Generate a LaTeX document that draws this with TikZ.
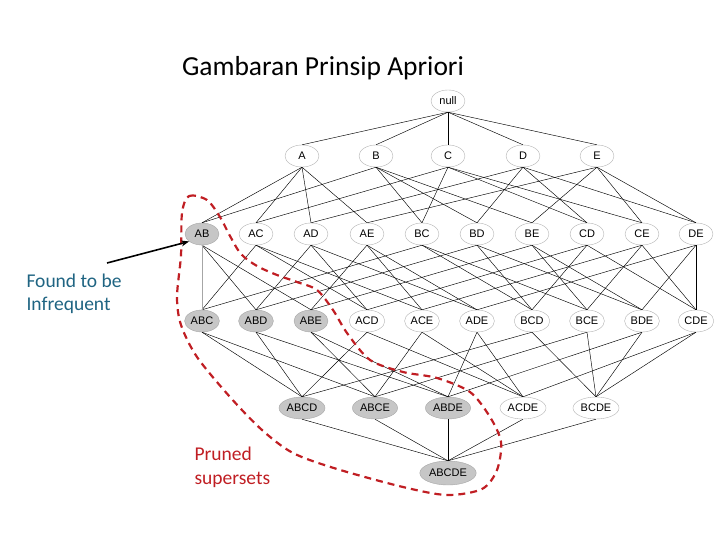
\documentclass[tikz,border=0pt]{standalone}
\usepackage{fontspec}
\setmainfont{Carlito}
\newfontfamily\arialfont{Liberation Sans}
\usetikzlibrary{shapes.geometric, arrows.meta}
\definecolor{teal1}{RGB}{31,100,130}
\definecolor{red1}{RGB}{192,30,35}
\tikzset{
  itemset/.style={ellipse, draw=gray!60, line width=0.4pt, fill=white,
    minimum width=34pt, minimum height=22pt, inner xsep=1pt, inner ysep=0pt,
    font=\arialfont\fontsize{11}{12}\selectfont},
  prunedset/.style={itemset, fill=gray!45, draw=gray!70},
  edge/.style={line width=0.45pt, black},
  prune/.style={red1, line width=2.2pt, dash pattern=on 7pt off 5pt}
}
\begin{document}
\begin{tikzpicture}[x=1pt, y=-1pt]
      \useasboundingbox (0,0) rectangle (720,540);
      % title
      \node (title) at (323,68) {\fontsize{27.5}{30}\selectfont Gambaran Prinsip Apriori};

      % itemset lattice
      \node[itemset] (null) at (448,101) {null};
      \node[itemset] (A) at (302,156) {A};
      \node[itemset] (B) at (376,156) {B};
      \node[itemset] (C) at (448,156) {C};
      \node[itemset] (D) at (523,156) {D};
      \node[itemset] (E) at (597,156) {E};
      % 2-itemsets
      \node[prunedset] (AB) at (202,234) {AB};
      \node[itemset] (AC) at (256,234) {AC};
      \node[itemset] (AD) at (311,234) {AD};
      \node[itemset] (AE) at (367,234) {AE};
      \node[itemset] (BC) at (422,234) {BC};
      \node[itemset] (BD) at (477,234) {BD};
      \node[itemset] (BE) at (532,234) {BE};
      \node[itemset] (CD) at (587,234) {CD};
      \node[itemset] (CE) at (642,234) {CE};
      \node[itemset] (DE) at (696,234) {DE};
      % 3-itemsets
      \node[prunedset] (ABC) at (202,321) {ABC};
      \node[prunedset] (ABD) at (256,321) {ABD};
      \node[prunedset] (ABE) at (311,321) {ABE};
      \node[itemset] (ACD) at (367,321) {ACD};
      \node[itemset] (ACE) at (422,321) {ACE};
      \node[itemset] (ADE) at (477,321) {ADE};
      \node[itemset] (BCD) at (532,321) {BCD};
      \node[itemset] (BCE) at (587,321) {BCE};
      \node[itemset] (BDE) at (642,321) {BDE};
      \node[itemset] (CDE) at (696,321) {CDE};
      % 4-itemsets
      \node[prunedset] (ABCD) at (302,408) {ABCD};
      \node[prunedset] (ABCE) at (375,408) {ABCE};
      \node[prunedset] (ABDE) at (448,408) {ABDE};
      \node[itemset] (ACDE) at (523,408) {ACDE};
      \node[itemset] (BCDE) at (596,408) {BCDE};
      % 5-itemset
      \node[prunedset, minimum height=24pt] (ABCDE) at (448,473) {ABCDE};

      % edges subset -> superset
      \foreach \c/\ps in {A/{null}, B/{null}, C/{null}, D/{null}, E/{null},
          AB/{A,B}, AC/{A,C}, AD/{A,D}, AE/{A,E}, BC/{B,C},
          BD/{B,D}, BE/{B,E}, CD/{C,D}, CE/{C,E}, DE/{D,E},
          ABC/{AC,BC}, ABD/{AB,AD,BD}, ABE/{AB,AE,BE}, ACD/{AC,AD,CD},
          ACE/{AC,AE,CE}, ADE/{AD,AE,DE}, BCD/{BC,BD,CD}, BCE/{BC,BE,CE},
          BDE/{BD,BE,DE}, CDE/{CD,CE,DE},
          ABCD/{ABC,ABD,ACD,BCD}, ABCE/{ABC,ABE,ACE,BCE},
          ABDE/{ABD,ABE,ADE,BDE}, ACDE/{ACD,ACE,ADE,CDE},
          BCDE/{BCD,BCE,BDE,CDE},
          ABCDE/{ABCD,ABCE,ABDE,ACDE,BCDE}}
        \foreach \p in \ps
          \draw[edge] (\p.south) -- (\c.north);
      \draw[edge, gray!70] (AB.south) -- (ABC.north);

      % pruned region
      \draw[prune] plot[smooth cycle] coordinates {
        (182,213) (189,196) (207,200) (220,217) (230,236) (241,254)
        (257,266) (277,275) (297,282) (317,290) (333,310) (347,333)
        (370,360) (403,372) (437,378) (470,392) (490,417) (501,442)
        (497,470) (482,489) (447,495) (403,487) (337,469) (293,453)
        (262,430) (230,397) (197,357) (181,325) (177,297) (181,255)};

      % labels
      \node[teal1, align=left, anchor=west, font=\fontsize{19.5}{23}\selectfont]
        (infreq) at (23,294) {Found to be\\Infrequent};
      \coordinate (tail) at (107,263);
      \draw[-{Stealth[length=8pt,width=6pt]}, line width=1.6pt] (tail) -- (AB.210);
      \node[red1, align=left, anchor=west, font=\fontsize{19.5}{24}\selectfont]
        (pruned) at (191,467) {Pruned\\supersets};
    \end{tikzpicture}
\end{document}
